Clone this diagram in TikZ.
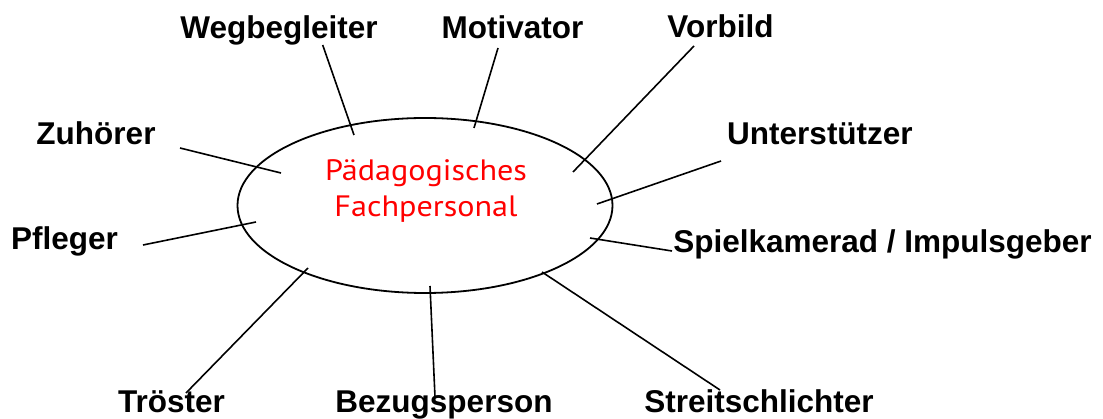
\documentclass[tikz,border=0pt]{standalone}
\usepackage{fontspec}
\usetikzlibrary{shapes.geometric}
\setmainfont{Liberation Sans}
\newfontfamily\centerfont{PT Sans}
\begin{document}
\begin{tikzpicture}[x=1pt,y=-1pt,
  lbl/.style={anchor=base,inner sep=0pt,font=\fontsize{31.5}{36}\selectfont\bfseries},
  conn/.style={draw=black,line width=1.6pt},
  centerlbl/.style={align=center,inner sep=0pt,text=red,font=\centerfont\fontsize{29.5}{36}\selectfont}]
\useasboundingbox (0,0) rectangle (1103,419);
\node[draw=black,line width=1.8pt,ellipse,minimum width=375pt,minimum height=175pt,inner sep=0pt,outer sep=0pt] (hub) at (425,205.5) {};
\node[centerlbl,anchor=base,transform shape,xscale=1.09] (title) at (426,217) {Pädagogisches\\Fachpersonal};
% labels
\node[lbl] (weg) at (279,39) {Wegbegleiter};
\node[lbl] (mot) at (512.5,39) {Motivator};
\node[lbl] (vor) at (720.5,38) {Vorbild};
\node[lbl] (zuh) at (96,145) {Zuhörer};
\node[lbl] (unt) at (820,145) {Unterstützer};
\node[lbl] (pfl) at (64.5,250) {Pfleger};
\node[lbl] (spi) at (882.5,253) {Spielkamerad / Impulsgeber};
\node[lbl] (tro) at (171.5,413) {Tröster};
\node[lbl] (bez) at (444,413) {Bezugsperson};
\node[lbl] (str) at (759,413) {Streitschlichter};
% connector ends
\coordinate (weg-o) at (322.7,45);  \coordinate (weg-i) at (354,135);
\coordinate (mot-o) at (498,48);    \coordinate (mot-i) at (474,128);
\coordinate (vor-o) at (694,46);    \coordinate (vor-i) at (573,172);
\coordinate (zuh-o) at (180,148);   \coordinate (zuh-i) at (281,173);
\coordinate (unt-o) at (721,161);   \coordinate (unt-i) at (597,204);
\coordinate (pfl-o) at (143,245);   \coordinate (pfl-i) at (256,222);
\coordinate (spi-o) at (672,251);   \coordinate (spi-i) at (590,238);
\coordinate (tro-o) at (186,393);   \coordinate (tro-i) at (308,268);
\coordinate (bez-o) at (435,397);   \coordinate (bez-i) at (430,286);
\coordinate (str-o) at (720,390);   \coordinate (str-i) at (542,272);
\foreach \n in {weg,mot,vor,zuh,unt,pfl,spi,tro,bez,str}
  \draw[conn] (\n-o) -- (\n-i);
\end{tikzpicture}
\end{document}
